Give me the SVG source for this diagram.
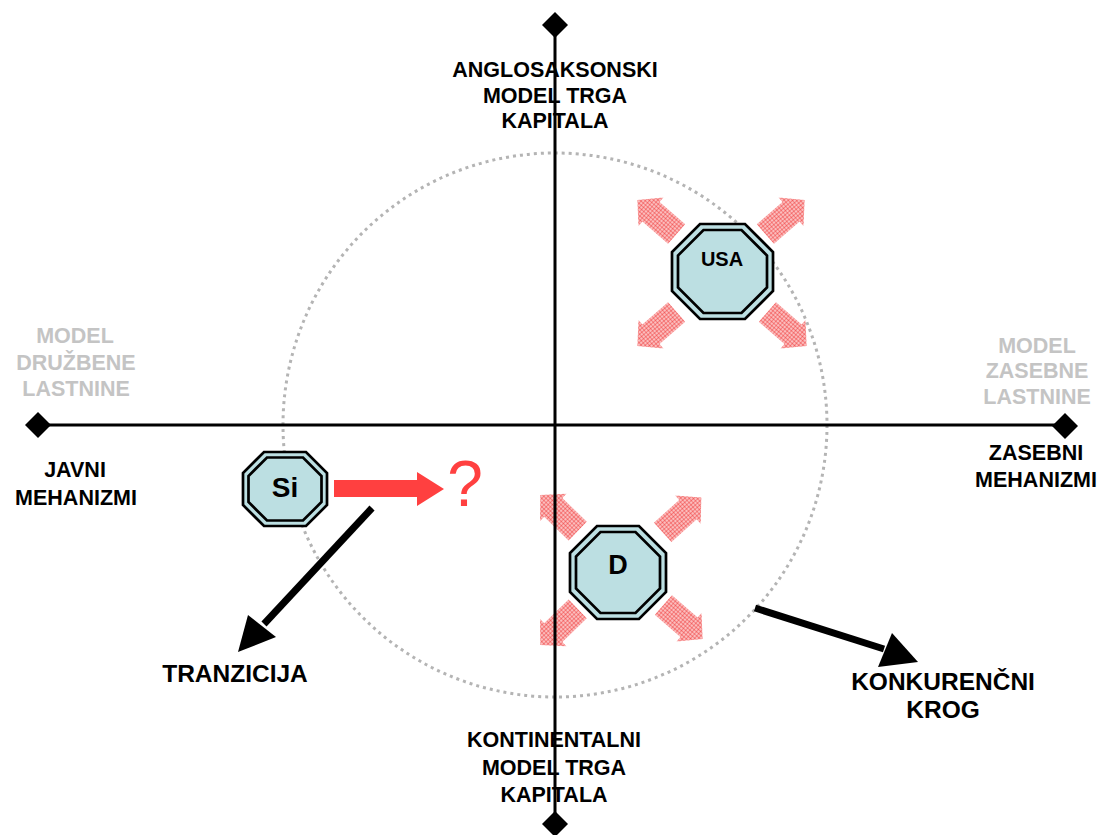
<svg xmlns="http://www.w3.org/2000/svg" width="1102" height="835" viewBox="0 0 1102 835">
<style>
.lbl{font-family:"Liberation Sans",Arial,sans-serif;font-weight:bold;font-size:21.5px;text-anchor:middle;fill:#000}
.gray{fill:#c4c4c4}
.big{font-size:24.5px}
.oct-o{fill:#bcdfe2;stroke:#000;stroke-width:2.7}
.oct-i{fill:#bcdfe2;stroke:#000;stroke-width:2.7}
.axis{stroke:#000;stroke-width:3;fill:none}
.pink{fill:url(#dots)}
</style>
<defs>
<pattern id="dots" width="3" height="3" patternUnits="userSpaceOnUse">
<rect width="3" height="3" fill="#ffe0e0"/>
<circle cx="1.5" cy="1.5" r="1.2" fill="#f25a5a"/>
</pattern>
<path id="parrow" d="M-26,-13 L8,-13 L8,-19 L26,0 L8,19 L8,13 L-26,13 Z"/>
<path id="dia" d="M0,-13 L13,0 L0,13 L-13,0 Z"/>
</defs>
<rect width="1102" height="835" fill="#fff"/>

<g id="pink-arrows">
<use href="#parrow" class="pink" transform="translate(785,217) rotate(-41)"/>
<use href="#parrow" class="pink" transform="translate(657,217) rotate(-139)"/>
<use href="#parrow" class="pink" transform="translate(657,329) rotate(139)"/>
<use href="#parrow" class="pink" transform="translate(787,329) rotate(41)"/>
<use href="#parrow" class="pink" transform="translate(559,513) rotate(-136)"/>
<use href="#parrow" class="pink" transform="translate(682,515) rotate(-42)"/>
<use href="#parrow" class="pink" transform="translate(559,627) rotate(136)"/>
<use href="#parrow" class="pink" transform="translate(683,622) rotate(41)"/>
</g>

<g id="circle">
<circle cx="555" cy="425" r="272" fill="none" stroke="#b4b4b4" stroke-width="3" stroke-dasharray="3 4"/>
</g>

<g id="axes">
<line class="axis" x1="555" y1="25" x2="555" y2="824"/>
<line class="axis" x1="38" y1="425" x2="1065" y2="425"/>
<use href="#dia" transform="translate(555,25)"/>
<use href="#dia" transform="translate(555,824)"/>
<use href="#dia" transform="translate(38,425)"/>
<use href="#dia" transform="translate(1065,426)"/>
</g>

<g id="connectors">
<line x1="372" y1="508" x2="264" y2="624" stroke="#000" stroke-width="7"/>
<polygon points="238,652 248,615 276,637" fill="#000"/>
<line x1="755" y1="608" x2="884" y2="649" stroke="#000" stroke-width="7"/>
<polygon points="918,662 892,633 878,667" fill="#000"/>
<polygon points="334,480 417,480 417,472 444,489 417,506 417,497 334,497" fill="#ff4040"/>
</g>

<g id="node-usa">
<polygon class="oct-o" points="700,224 745,224 773,252 773,291 745,319 700,319 672,291 672,252"/>
<polygon class="oct-i" points="703.5,230 741.5,230 767,255.5 767,287.5 741.5,313 703.5,313 678,287.5 678,255.5"/>
<text class="lbl" x="722" y="266" style="font-size:20px">USA</text>
</g>

<g id="node-si">
<polygon class="oct-o" points="264,452 306,452 327,473 327,505 306,526 264,526 243,505 243,473"/>
<polygon class="oct-i" points="267,457.5 303,457.5 321.5,476 321.5,502 303,520.5 267,520.5 248.5,502 248.5,476"/>
<text class="lbl" x="285" y="497" style="font-size:28px">Si</text>
</g>

<g id="node-d">
<polygon class="oct-o" points="597,526 639,526 666,553 666,592 639,619 597,619 570,592 570,553"/>
<polygon class="oct-i" points="600.5,532 635.5,532 660,556.5 660,588.5 635.5,613 600.5,613 576,588.5 576,556.5"/>
<text class="lbl" x="618" y="574" style="font-size:27px">D</text>
</g>

<g id="question">
<text x="465" y="506" style="font-family:'Liberation Sans',Arial,sans-serif;font-size:64px;fill:#ff4040" text-anchor="middle">?</text>
</g>

<g id="labels">
<text class="lbl" x="555" y="77">ANGLOSAKSONSKI</text>
<text class="lbl" x="555" y="103">MODEL TRGA</text>
<text class="lbl" x="555" y="128">KAPITALA</text>
<text class="lbl" x="554" y="747">KONTINENTALNI</text>
<text class="lbl" x="554" y="775">MODEL TRGA</text>
<text class="lbl" x="554" y="802">KAPITALA</text>
<text class="lbl gray" x="75" y="343">MODEL</text>
<text class="lbl gray" x="76" y="370">DRUŽBENE</text>
<text class="lbl gray" x="76" y="396">LASTNINE</text>
<text class="lbl gray" x="1037" y="353">MODEL</text>
<text class="lbl gray" x="1037" y="378">ZASEBNE</text>
<text class="lbl gray" x="1037" y="404">LASTNINE</text>
<text class="lbl" x="75" y="477">JAVNI</text>
<text class="lbl" x="76" y="505">MEHANIZMI</text>
<text class="lbl" x="1036" y="460">ZASEBNI</text>
<text class="lbl" x="1036" y="487">MEHANIZMI</text>
<text class="lbl big" x="235" y="682">TRANZICIJA</text>
<text class="lbl big" x="943" y="690">KONKURENČNI</text>
<text class="lbl big" x="943" y="718">KROG</text>
</g>
</svg>
